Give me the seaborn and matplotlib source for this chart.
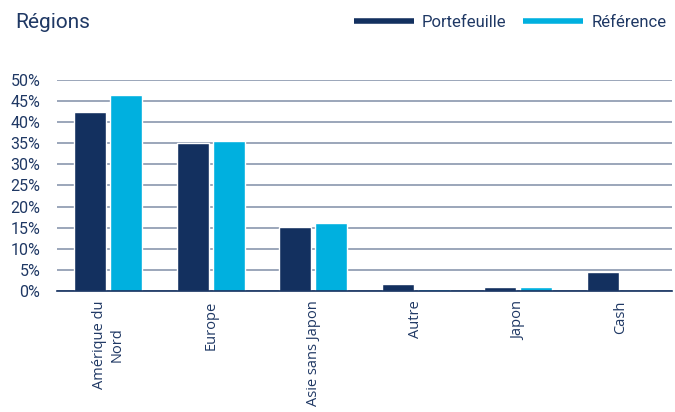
import matplotlib
matplotlib.use("Agg")
import matplotlib.pyplot as plt
from matplotlib.lines import Line2D
from matplotlib.ticker import MultipleLocator, FuncFormatter
import seaborn as sns
import pandas as pd

categories = ["Amérique du\nNord", "Europe", "Asie sans Japon", "Autre", "Japon", "Cash"]
portefeuille = [42.5, 35.0, 15.1, 1.6, 0.9, 4.5]
reference = [46.4, 35.5, 16.1, 0.5, 0.95, 0.0]
series_names = ["Portefeuille", "Référence"]

navy = "#13305F"
cyan = "#00B0DF"
text_col = "#1F3864"
grid_col = "#8A97AE"

df = pd.DataFrame({
    "cat": categories * 2,
    "val": portefeuille + reference,
    "serie": [series_names[0]] * len(categories) + [series_names[1]] * len(categories),
})

sns.set_theme(style="white")
plt.rcParams["font.family"] = ["Roboto", "DejaVu Sans"]

fig = plt.figure(figsize=(6.75, 4.12), dpi=100)
ax = fig.add_axes([0.0844, 0.2937, 0.9112, 0.5123])

sns.barplot(data=df, x="cat", y="val", hue="serie", palette=[navy, cyan],
            width=0.7, gap=0.1, ax=ax, legend=False, saturation=1)

ax.set_ylim(0, 50)
ax.set_xlim(-0.5, len(categories) - 0.5)
ax.yaxis.set_major_locator(MultipleLocator(5))
ax.yaxis.set_major_formatter(FuncFormatter(lambda v, p: f"{v:.0f}%"))
ax.set_axisbelow(True)
ax.grid(axis="y", color=grid_col, linewidth=1.2)
ax.grid(axis="x", visible=False)
for s in ["top", "right", "left"]:
    ax.spines[s].set_visible(False)
ax.spines["bottom"].set_color(navy)
ax.spines["bottom"].set_linewidth(1.2)
ax.set_xlabel("")
ax.set_ylabel("")
ax.tick_params(axis="y", labelsize=11.5, colors=text_col, length=0, pad=12)
ax.tick_params(axis="x", length=0, pad=7)
ax.set_xticks(range(len(categories)))
ax.set_xticklabels(categories, rotation=90, fontsize=10.5, color=text_col,
                   family=["Open Sans", "DejaVu Sans"], va="top", ha="center",
                   multialignment="center")

fig.text(0.022, 0.945, "Régions", fontsize=15, color=text_col, va="center")

handles = [Line2D([0], [0], color=navy, lw=4, solid_capstyle="butt"),
           Line2D([0], [0], color=cyan, lw=4, solid_capstyle="butt")]
fig.legend(handles, series_names, loc="center right", bbox_to_anchor=(1.0, 0.945),
           ncol=2, frameon=False, handlelength=3.6, handletextpad=0.5,
           columnspacing=1.0, fontsize=12, labelcolor=text_col, borderaxespad=0.1)

fig.savefig("out.png", dpi=100)
